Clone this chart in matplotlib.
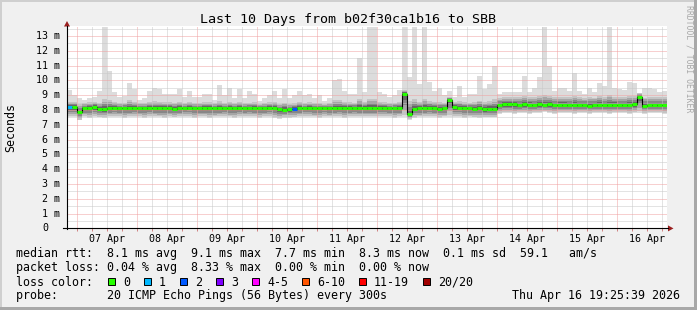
import numpy as np
import matplotlib
matplotlib.use("Agg")
import matplotlib.pyplot as plt
from matplotlib.patches import Rectangle, Polygon
from matplotlib.lines import Line2D

W, H = 697, 310
MONO = "DejaVu Sans Mono"

title = "Last 10 Days from b02f30ca1b16 to SBB"
day_labels = ["07 Apr", "08 Apr", "09 Apr", "10 Apr", "11 Apr",
              "12 Apr", "13 Apr", "14 Apr", "15 Apr", "16 Apr"]
y_ticks = list(range(0, 14))

# 2-hour bins, hours relative to 07 Apr 00:00, first bin starts at -4 h
bin_start = -4
bin_hours = 2

# ping 20/20 (top of the light smoke), ms
ping_max = [9.35, 9.0, 8.8, 8.7, 8.8, 8.9, 9.3, 13.6, 10.6, 9.2,
            8.85, 8.95, 9.85, 9.4, 8.7, 8.8, 9.3, 9.5, 9.4, 9.05,
            9.1, 9.05, 9.4, 8.85, 9.3, 8.85, 8.85, 9.05, 9.05, 8.7,
            9.7, 9.0, 9.5, 8.8, 9.4, 8.8, 9.3, 9.1, 8.6, 8.8,
            9.0, 9.3, 8.8, 9.4, 8.8, 9.0, 9.3, 9.0, 9.05, 8.8,
            9.0, 8.6, 8.8, 10.0, 10.1, 9.3, 9.05, 9.1, 11.5, 9.2,
            13.6, 13.6, 9.2, 9.1, 8.85, 9.0, 9.35, 13.6, 10.2, 13.6,
            9.75, 13.6, 9.9, 9.3, 9.5, 9.0, 9.3, 8.9, 9.6, 8.9,
            9.05, 9.1, 10.3, 9.4, 9.75, 11.0, 9.1, 9.2, 9.2, 9.2,
            9.2, 10.3, 9.2, 9.5, 10.2, 13.6, 11.0, 9.3, 9.5, 9.5,
            9.3, 10.5, 9.3, 9.1, 9.5, 9.2, 9.8, 9.6, 13.6, 9.5,
            9.4, 9.35, 9.9, 9.8, 9.1, 9.5, 9.5, 9.4, 9.2, 9.3]

# upper edge of the dense smoke, ms
ping_hi = [8.6, 8.6, 8.5, 8.5, 8.55, 8.6, 8.55, 8.8, 8.7, 8.6,
           8.5, 8.55, 8.7, 8.6, 8.5, 8.5, 8.6, 8.65, 8.6, 8.55,
           8.55, 8.55, 8.6, 8.5, 8.6, 8.5, 8.5, 8.55, 8.55, 8.5,
           8.65, 8.5, 8.6, 8.5, 8.6, 8.5, 8.55, 8.55, 8.45, 8.5,
           8.55, 8.6, 8.45, 8.55, 8.45, 8.5, 8.6, 8.5, 8.55, 8.5,
           8.5, 8.45, 8.5, 8.7, 8.7, 8.6, 8.55, 8.55, 8.8, 8.6,
           8.8, 8.8, 8.6, 8.55, 8.5, 8.55, 8.6, 9.4, 8.7, 8.8,
           8.6, 8.8, 8.65, 8.6, 8.6, 8.55, 8.9, 8.6, 8.65, 8.55,
           8.55, 8.6, 8.7, 8.6, 8.65, 8.8, 8.85, 8.9, 8.9, 8.9,
           8.9, 9.0, 8.9, 8.95, 9.0, 9.1, 9.0, 8.9, 8.95, 8.95,
           8.9, 9.0, 8.9, 8.85, 8.95, 8.9, 9.0, 8.95, 9.1, 8.95,
           8.9, 8.9, 9.0, 9.0, 9.2, 8.9, 8.95, 8.9, 8.9, 8.9]

# median rtt, ms
median = [8.20, 8.22, 7.85, 8.12, 8.12, 8.22, 8.08, 8.05, 8.12, 8.14,
          8.12, 8.10, 8.12, 8.14, 8.12, 8.10, 8.12, 8.12, 8.10, 8.13,
          8.12, 8.08, 8.12, 8.12, 8.15, 8.10, 8.12, 8.12, 8.14, 8.10,
          8.12, 8.12, 8.10, 8.12, 8.14, 8.12, 8.10, 8.12, 8.10, 8.12,
          8.15, 8.12, 8.04, 8.03, 8.04, 8.06, 8.12, 8.12, 8.14, 8.10,
          8.12, 8.15, 8.10, 8.12, 8.14, 8.12, 8.12, 8.10, 8.12, 8.12,
          8.12, 8.12, 8.14, 8.12, 8.12, 8.10, 8.12, 9.10, 7.70, 8.08,
          8.10, 8.12, 8.14, 8.12, 8.08, 8.10, 8.70, 8.20, 8.15, 8.12,
          8.10, 8.08, 8.10, 8.05, 8.08, 8.08, 8.35, 8.37, 8.40, 8.38,
          8.35, 8.38, 8.36, 8.33, 8.37, 8.35, 8.38, 8.35, 8.35, 8.35,
          8.33, 8.35, 8.35, 8.35, 8.30, 8.32, 8.35, 8.33, 8.35, 8.35,
          8.33, 8.35, 8.35, 8.38, 8.90, 8.30, 8.32, 8.33, 8.33, 8.33]

# ping 1/20 (bottom of the smoke), ms
ping_min = [7.55, 7.5, 7.3, 7.5, 7.45, 7.5, 7.5, 7.45, 7.5, 7.55,
            7.5, 7.45, 7.5, 7.5, 7.5, 7.45, 7.55, 7.5, 7.5, 7.45,
            7.5, 7.5, 7.5, 7.55, 7.5, 7.45, 7.5, 7.5, 7.45, 7.5,
            7.5, 7.55, 7.5, 7.45, 7.5, 7.5, 7.55, 7.5, 7.45, 7.5,
            7.5, 7.45, 7.4, 7.45, 7.45, 7.5, 7.5, 7.55, 7.5, 7.5,
            7.45, 7.5, 7.5, 7.5, 7.5, 7.45, 7.5, 7.55, 7.5, 7.5,
            7.5, 7.5, 7.5, 7.55, 7.5, 7.45, 7.5, 7.5, 7.35, 7.45,
            7.5, 7.5, 7.55, 7.5, 7.45, 7.5, 7.55, 7.5, 7.5, 7.45,
            7.5, 7.5, 7.45, 7.5, 7.5, 7.5, 7.75, 7.8, 7.8, 7.75,
            7.8, 7.8, 7.75, 7.8, 7.8, 7.85, 7.8, 7.75, 7.8, 7.8,
            7.8, 7.75, 7.8, 7.8, 7.75, 7.8, 7.8, 7.8, 7.75, 7.8,
            7.8, 7.8, 7.75, 7.8, 7.8, 7.75, 7.8, 7.8, 7.8, 7.75]

# lost pings per bin (of 20)
loss = [1] + [0] * 44 + [2] + [0] * 74

loss_colors = ["#26ff00", "#00b8ff", "#0059ff", "#7e00ff",
               "#ff00ff", "#ff5500", "#ff0000", "#a10000"]
loss_labels = ["0", "1", "2", "3", "4-5", "6-10", "11-19", "20/20"]
loss_upper = [0, 1, 2, 3, 5, 10, 19, 20]

legend_rtt = "median rtt:  8.1 ms avg  9.1 ms max  7.7 ms min  8.3 ms now  0.1 ms sd  59.1   am/s"
legend_loss = "packet loss: 0.04 % avg  8.33 % max  0.00 % min  0.00 % now"
legend_probe = "probe:       20 ICMP Echo Pings (56 Bytes) every 300s"
stamp = "Thu Apr 16 19:25:39 2026"


def fx(x):
    return x / W


def fy(y):
    return 1 - y / H


def loss_color(n):
    for up, col in zip(loss_upper, loss_colors):
        if n <= up:
            return col
    return loss_colors[-1]


fig = plt.figure(figsize=(W / 100, H / 100), dpi=100)
fig.patch.set_facecolor("#f0f0f0")

# frame shading like rrdtool
fig.add_artist(Rectangle((0, fy(2)), 1, 2 / H, transform=fig.transFigure, color="#cfcfcf", lw=0))
fig.add_artist(Rectangle((0, 0), 2 / W, 1, transform=fig.transFigure, color="#cfcfcf", lw=0))
fig.add_artist(Rectangle((0, 0), 1, 3 / H, transform=fig.transFigure, color="#a8a8a8", lw=0))
fig.add_artist(Rectangle((fx(W - 3), 0), 3 / W, 1, transform=fig.transFigure, color="#a8a8a8", lw=0))

top_px, bot_px = 25.6, 228.4
ax = fig.add_axes([fx(67), fy(bot_px), 600 / W, (bot_px - top_px) / H])
ax.set_facecolor("white")
ax.set_xlim(-4, 236)
ax.set_ylim(0, 13.7)
for s in ax.spines.values():
    s.set_visible(False)

edges = bin_start + bin_hours * np.arange(len(median) + 1)
med = np.array(median)
hi = np.array(ping_hi)
lo = np.array(ping_min)

# smoke
ax.stairs(ping_max, edges, baseline=ping_min, fill=True, color="#dcdcdc", lw=0, zorder=1)
for frac, col in zip([0.9, 0.68, 0.47, 0.28], ["#c4c4c4", "#a6a6a6", "#878787", "#666666"]):
    ax.stairs(med + frac * (hi - med), edges, baseline=med - frac * (med - lo),
              fill=True, color=col, lw=0, zorder=1)

# grid
dot = (0, (1, 1))
hours6 = np.arange(0, 236, 6)
midnights = np.arange(0, 236, 24)
ax.vlines([h for h in hours6 if h % 24], 0, 13.7, colors="#c8c8c8", linestyles=dot, lw=0.72, zorder=2)
ax.vlines(midnights, 0, 13.7, colors="#f0a0a0", linestyles=dot, lw=0.72, zorder=2)
ax.hlines(np.arange(0.5, 13.7, 1.0), -4, 236, colors="#c8c8c8", linestyles=dot, lw=0.72, zorder=2)
ax.hlines(y_ticks[1:], -4, 236, colors="#f0a0a0", linestyles=dot, lw=0.72, zorder=2)

# median line
ax.stairs(median, edges, baseline=None, color="black", lw=0.8, zorder=3)
ax.hlines(median, edges[:-1], edges[1:], colors=[loss_color(n) for n in loss], lw=2.2,
          zorder=4, capstyle="butt")

# ticks and labels
ax.set_yticks(y_ticks)
ax.set_yticklabels([])
ax.tick_params(axis="y", length=0)
noons = 12 + 24 * np.arange(len(day_labels))
ax.set_xticks(noons)
ax.set_xticklabels([])
ax.set_xticks(hours6, minor=True)
ax.xaxis.remove_overlapping_locs = False
ax.tick_params(axis="x", which="major", length=0)
ax.tick_params(axis="x", which="minor", length=2, width=0.7, color="#d08080", direction="out")

ytr = ax.get_yaxis_transform()
for v in y_ticks:
    if v == 0:
        ax.text(-(67 - 48) / 600, v, "0", transform=ytr, ha="right", va="center",
                fontsize=7.2, family=MONO)
    else:
        ax.text(-(67 - 60) / 600, v, f"{v} m", transform=ytr, ha="right", va="center",
                fontsize=7.2, family=MONO)

xtr = ax.get_xaxis_transform()
for h, lab in zip(noons, day_labels):
    ax.text(h, -(239 - bot_px) / (bot_px - top_px), lab, transform=xtr, ha="center",
            va="center", fontsize=7.2, family=MONO)

# axes with arrows
fig.add_artist(Line2D([fx(67), fx(67)], [fy(bot_px + 0.5), fy(26)], color="black", lw=0.8))
fig.add_artist(Line2D([fx(63), fx(668)], [fy(bot_px), fy(bot_px)], color="black", lw=0.8))
fig.add_artist(Polygon([(fx(67), fy(21)), (fx(64), fy(26.5)), (fx(70), fy(26.5))],
                       closed=True, transform=fig.transFigure, color="#9a1f1f", lw=0))
fig.add_artist(Polygon([(fx(673.5), fy(bot_px)), (fx(668), fy(bot_px - 3)), (fx(668), fy(bot_px + 3))],
                       closed=True, transform=fig.transFigure, color="#9a1f1f", lw=0))

# texts
fig.text(fx(348.5), fy(19), title, ha="center", va="center", fontsize=9.6, family=MONO)
fig.text(fx(10.5), fy(127), "Seconds", rotation=90, ha="center", va="center",
         fontsize=8.4, family=MONO)
fig.text(fx(688.5), fy(59), "RRDTOOL / TOBI OETIKER", rotation=270, ha="center", va="center",
         fontsize=5.9, family=MONO, color="#a8a8a8")

fig.text(fx(16), fy(254), legend_rtt, ha="left", va="center", fontsize=8.4, family=MONO)
fig.text(fx(16), fy(268), legend_loss, ha="left", va="center", fontsize=8.4, family=MONO)
fig.text(fx(16), fy(282), "loss color:", ha="left", va="center", fontsize=8.4, family=MONO)
fig.text(fx(16), fy(296), legend_probe, ha="left", va="center", fontsize=8.4, family=MONO)
fig.text(fx(680), fy(296), stamp, ha="right", va="center", fontsize=8.4, family=MONO)

bx = 108
for col, lab in zip(loss_colors, loss_labels):
    fig.add_artist(Rectangle((fx(bx), fy(284.5)), 7 / W, 6.5 / H, transform=fig.transFigure,
                             facecolor=col, edgecolor="black", lw=0.7))
    fig.text(fx(bx + 15), fy(282), lab, ha="left", va="center", fontsize=8.4, family=MONO)
    bx = bx + 15 + 7 * len(lab) + 14

fig.savefig("out.png", dpi=100, facecolor=fig.get_facecolor())
